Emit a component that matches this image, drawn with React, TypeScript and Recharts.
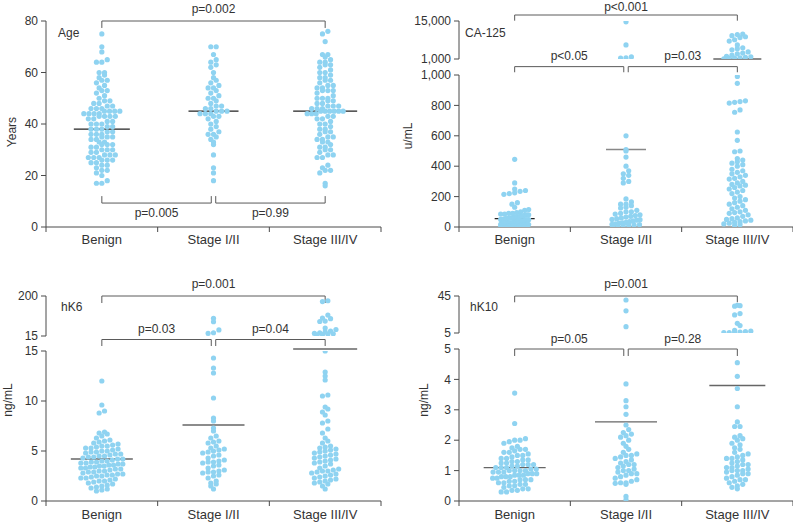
import React from "react";
import { ScatterChart, Scatter, XAxis, YAxis, ReferenceLine } from "recharts";

const categories = ["Benign", "Stage I/II", "Stage III/IV"];

// Age, years
const ageBenign = [75, 70, 68, 65, 64, 64, 60, 60, 59, 58, 57, 57, 56, 55, 54, 53, 53, 52, 51, 50, 49, 49, 48, 48, 47, 47, 46, 46, 46, 45, 45, 45, 45, 44, 44, 44, 44, 43, 43, 43, 43, 42, 42, 41, 41, 40, 40, 40, 39, 39, 38, 38, 38, 37, 37, 36, 36, 36, 35, 35, 35, 34, 34, 33, 33, 32, 32, 32, 31, 31, 30, 30, 30, 29, 29, 28, 28, 28, 27, 27, 27, 26, 26, 26, 25, 25, 24, 24, 23, 22, 22, 21, 20, 18, 17, 17];
const ageEarly = [70, 70, 67, 65, 64, 63, 62, 60, 58, 57, 56, 55, 54, 54, 53, 52, 51, 50, 50, 49, 48, 47, 47, 46, 46, 45, 45, 45, 44, 44, 44, 43, 43, 42, 41, 40, 39, 38, 37, 36, 36, 35, 34, 33, 32, 28, 23, 21, 18];
const ageLate = [76, 75, 72, 67, 67, 66, 65, 64, 64, 63, 63, 62, 61, 60, 60, 59, 58, 58, 57, 57, 56, 55, 55, 54, 54, 53, 53, 53, 52, 51, 50, 50, 50, 49, 49, 48, 48, 47, 47, 47, 46, 46, 46, 45, 45, 45, 45, 45, 45, 44, 44, 44, 43, 43, 42, 42, 41, 40, 40, 39, 38, 38, 37, 37, 36, 35, 35, 34, 34, 33, 33, 32, 31, 31, 30, 30, 29, 28, 28, 27, 27, 24, 23, 22, 22, 21, 17, 16];
const ageMean = [38, 45, 45];

// CA-125, u/mL
const caBenign = [445, 290, 250, 240, 235, 225, 220, 215, 160, 150, 130, 115, 110, 100, 95, 90, 90, 85, 85, 80, 80, 78, 75, 72, 70, 68, 65, 65, 62, 60, 60, 58, 55, 55, 52, 50, 50, 48, 45, 45, 45, 42, 40, 40, 38, 38, 35, 35, 33, 30, 30, 30, 28, 28, 25, 25, 25, 22, 22, 20, 20, 20, 18, 18, 16, 15, 15, 15, 14, 12, 12, 12, 11, 10, 10, 10, 9, 9, 8, 8, 7, 7, 6, 6, 5, 5, 5, 4, 4, 3, 3, 3, 2, 2, 1];
const caEarly = [14700, 6200, 1750, 1400, 1300, 600, 510, 500, 460, 400, 370, 350, 340, 320, 300, 290, 185, 165, 150, 150, 140, 130, 125, 110, 100, 100, 90, 85, 80, 75, 70, 65, 60, 55, 50, 48, 45, 40, 35, 30, 28, 25, 20, 18, 15, 12, 10, 8, 5, 3];
const caLate = [10200, 10000, 9600, 9200, 8900, 8100, 7600, 6200, 5100, 4800, 4400, 3600, 3200, 2900, 2400, 2000, 1800, 1600, 1400, 1300, 1200, 1100, 990, 945, 830, 825, 820, 815, 770, 755, 625, 570, 500, 495, 450, 440, 430, 420, 410, 400, 380, 370, 360, 350, 340, 330, 320, 315, 300, 290, 280, 275, 270, 260, 250, 240, 230, 220, 200, 190, 180, 170, 160, 150, 140, 130, 120, 110, 100, 95, 90, 80, 70, 60, 55, 50, 45, 40, 35, 30, 25, 20, 15, 10];
const caMean = [55, 510, 1000];

// hK6, ng/mL
const hk6Benign = [12.0, 9.6, 9.0, 8.8, 6.9, 6.8, 6.7, 6.5, 6.3, 6.1, 6.0, 5.9, 5.8, 5.7, 5.6, 5.5, 5.5, 5.4, 5.3, 5.3, 5.2, 5.1, 5.0, 5.0, 4.9, 4.9, 4.8, 4.7, 4.7, 4.6, 4.5, 4.5, 4.4, 4.4, 4.3, 4.2, 4.2, 4.1, 4.0, 4.0, 3.9, 3.9, 3.8, 3.8, 3.7, 3.7, 3.6, 3.6, 3.5, 3.5, 3.4, 3.4, 3.3, 3.3, 3.2, 3.2, 3.1, 3.0, 3.0, 2.9, 2.9, 2.8, 2.7, 2.7, 2.6, 2.6, 2.5, 2.5, 2.4, 2.3, 2.3, 2.2, 2.1, 2.0, 2.0, 1.9, 1.8, 1.7, 1.6, 1.5, 1.4, 1.3, 1.2, 1.1, 1.0];
const hk6Early = [97, 81, 43, 30, 27, 14.3, 13.3, 12.8, 10.3, 8.3, 8.0, 7.3, 7.0, 6.5, 6.3, 6.0, 5.9, 5.8, 5.5, 5.3, 5.2, 5.1, 5.0, 4.9, 4.8, 4.6, 4.5, 4.3, 4.1, 4.0, 3.9, 3.9, 3.8, 3.6, 3.5, 3.3, 3.1, 3.0, 2.9, 2.9, 2.8, 2.6, 2.5, 2.3, 2.0, 1.8, 1.7, 1.5, 1.2];
const hk6Late = [178, 174, 112, 98, 95, 84, 82, 52, 45, 38, 34, 30, 27, 25, 24, 22, 20, 15.0, 12.9, 12.5, 12.1, 10.6, 10.5, 9.4, 9.2, 8.9, 8.6, 8.0, 7.8, 7.2, 6.8, 6.3, 6.0, 5.8, 5.5, 5.4, 5.3, 5.2, 5.1, 5.0, 4.9, 4.8, 4.7, 4.6, 4.5, 4.4, 4.3, 4.2, 4.1, 4.0, 3.9, 3.8, 3.7, 3.5, 3.3, 3.2, 3.1, 3.0, 3.0, 2.9, 2.8, 2.7, 2.6, 2.5, 2.4, 2.3, 2.2, 2.1, 2.0, 1.9, 1.8, 1.7, 1.5, 1.2];
const hk6Mean = [4.2, 7.6, 15.2];

// hK10, ng/mL
const hk10Benign = [3.55, 2.55, 2.05, 2.0, 2.0, 1.95, 1.9, 1.8, 1.75, 1.7, 1.7, 1.65, 1.6, 1.6, 1.55, 1.5, 1.5, 1.45, 1.4, 1.4, 1.35, 1.35, 1.3, 1.3, 1.25, 1.25, 1.2, 1.2, 1.2, 1.15, 1.15, 1.1, 1.1, 1.1, 1.05, 1.05, 1.0, 1.0, 1.0, 1.0, 0.95, 0.95, 0.95, 0.9, 0.9, 0.9, 0.85, 0.85, 0.85, 0.8, 0.8, 0.8, 0.75, 0.75, 0.7, 0.7, 0.7, 0.65, 0.65, 0.6, 0.6, 0.55, 0.55, 0.5, 0.5, 0.45, 0.4, 0.4, 0.35, 0.35, 0.3, 0.3];
const hk10Early = [40.7, 29, 11.8, 3.85, 3.3, 3.1, 2.85, 2.5, 2.35, 2.25, 2.2, 2.15, 2.1, 2.0, 1.9, 1.8, 1.7, 1.6, 1.55, 1.5, 1.5, 1.45, 1.4, 1.35, 1.3, 1.25, 1.2, 1.2, 1.15, 1.1, 1.05, 1.0, 1.0, 0.95, 0.9, 0.9, 0.85, 0.8, 0.75, 0.7, 0.65, 0.6, 0.6, 0.58, 0.55, 0.15, 0.05];
const hk10Late = [35, 34.5, 34, 26, 24.5, 15.5, 13, 8, 7, 6.5, 6, 5.8, 5.5, 5.3, 4.55, 4.1, 3.7, 3.1, 2.6, 2.45, 2.45, 2.15, 2.1, 2.05, 2.0, 1.9, 1.85, 1.75, 1.7, 1.6, 1.55, 1.5, 1.45, 1.4, 1.4, 1.35, 1.3, 1.25, 1.2, 1.2, 1.15, 1.1, 1.1, 1.05, 1.0, 1.0, 1.0, 0.95, 0.9, 0.9, 0.85, 0.8, 0.75, 0.7, 0.7, 0.65, 0.6, 0.55, 0.5, 0.45, 0.4];
const hk10Mean = [1.1, 2.6, 3.8];

const pAge = ["p=0.002", "p=0.005", "p=0.99"];
const pCa = ["p<0.001", "p<0.05", "p=0.03"];
const pHk6 = ["p=0.001", "p=0.03", "p=0.04"];
const pHk10 = ["p=0.001", "p=0.05", "p=0.28"];

const AXIS = "#4a4a4a";
const TEXT = "#333";
const DOT = "#8fd3f1";
const BRACKET = "#5a5a5a";
const ROW = 5;
const STEP = 5.4;
const BAND_L = (400 - 19 - 46) / 3;
const BAND_R = (393 - 59) / 3;

function swarm(values: number[], cat: number, min: number, ppu: number, band: number, maxHalf: number) {
  const rows = new Map<number, number[]>();
  values.forEach((v) => {
    const r = Math.round(((v - min) * ppu) / ROW);
    if (!rows.has(r)) rows.set(r, []);
    rows.get(r)!.push(v);
  });
  const pts: { x: number; y: number }[] = [];
  rows.forEach((vs) => {
    vs.sort((a, b) => a - b);
    const n = vs.length;
    const gap = n > 1 ? Math.min(STEP, (2 * maxHalf) / (n - 1)) : 0;
    vs.forEach((v, i) => pts.push({ x: cat + ((i - (n - 1) / 2) * gap) / band, y: v }));
  });
  return pts;
}

const dot = (p: any) => <circle cx={p.cx} cy={p.cy} r={2.6} fill={DOT} />;

const fmt = (v: number) => v.toLocaleString("en-US");

function catTick(dy: number) {
  return (p: any) => {
    const v = p.payload.value;
    if (Math.abs(v - Math.round(v)) > 0.01) {
      return <line x1={p.x} x2={p.x} y1={p.y} y2={p.y + 5} stroke={AXIS} />;
    }
    return (
      <text x={p.x} y={p.y + dy} textAnchor="middle" fontSize={13} fill={TEXT}>
        {categories[Math.round(v)]}
      </text>
    );
  };
}

function bracket(id: string, x1: number, x2: number, y: number, yEnd: number, text: string, pos: "top" | "bottom", offset: number) {
  return [
    <ReferenceLine key={id + "h"} segment={[{ x: x1, y }, { x: x2, y }]} stroke={BRACKET} ifOverflow="visible"
      label={{ value: text, position: pos, offset, fill: TEXT, fontSize: 12 }} />,
    <ReferenceLine key={id + "a"} segment={[{ x: x1, y }, { x: x1, y: yEnd }]} stroke={BRACKET} ifOverflow="visible" />,
    <ReferenceLine key={id + "b"} segment={[{ x: x2, y }, { x: x2, y: yEnd }]} stroke={BRACKET} ifOverflow="visible" />,
  ];
}

function meanLine(id: string, cat: number, v: number, halfPx: number, band: number, color: string) {
  const h = halfPx / band;
  return (
    <ReferenceLine key={id} segment={[{ x: cat - h, y: v }, { x: cat + h, y: v }]} stroke={color} strokeWidth={1.3} ifOverflow="visible" />
  );
}

type Sec = {
  left: number; top: number; width: number; height: number;
  mTop: number; mBottom: number; mRight: number; yWidth: number;
  domain: [number, number]; ticks: number[]; xHeight?: number; xDy?: number;
  groups: number[][];
  maxHalf?: number;
  extras?: React.ReactNode[];
};

function Section(s: Sec) {
  const xh = s.xHeight ?? 0;
  const plotW = s.width - s.mRight - s.yWidth;
  const plotH = s.height - s.mTop - s.mBottom - xh;
  const band = plotW / 3;
  const ppu = plotH / (s.domain[1] - s.domain[0]);
  return (
    <div style={{ position: "absolute", left: s.left, top: s.top }}>
      <ScatterChart width={s.width} height={s.height} margin={{ top: s.mTop, right: s.mRight, bottom: s.mBottom, left: 0 }}>
        <XAxis type="number" dataKey="x" domain={[-0.5, 2.5]} ticks={[-0.5, 0, 0.5, 1, 1.5, 2, 2.5]} interval={0}
          hide={!xh} height={xh || 1} tickLine={false} tickSize={0} tickMargin={0} axisLine={{ stroke: AXIS }}
          tick={catTick(s.xDy ?? 17)} allowDataOverflow />
        <YAxis type="number" dataKey="y" domain={s.domain} ticks={s.ticks} interval={0} width={s.yWidth} tickFormatter={fmt}
          tickSize={5} tickMargin={3} axisLine={{ stroke: AXIS }} tickLine={{ stroke: AXIS }}
          tick={{ fill: TEXT, fontSize: 12 }} allowDataOverflow />
        {s.groups.map((g, i) => (
          <Scatter key={i} data={swarm(g, i, s.domain[0], ppu, band, s.maxHalf ?? 20)} fill={DOT} shape={dot} isAnimationActive={false} />
        ))}
        {s.extras}
      </ScatterChart>
    </div>
  );
}

const low = (vals: number[], brk: number) => vals.filter((v) => v <= brk);
const high = (vals: number[], brk: number) => vals.filter((v) => v > brk);

export default function App() {
  const caBrk = 1000, hk6Brk = 15, hk10Brk = 5;
  return (
    <div style={{ position: "absolute", left: 0, top: 0, width: 793, height: 522, background: "#fff", fontFamily: "'Liberation Sans', Arial, sans-serif" }}>
      {/* Age */}
      <Section left={0} top={0} width={400} height={260} mTop={21} mBottom={0} mRight={19} yWidth={46}
        domain={[0, 80]} ticks={[0, 20, 40, 60, 80]} xHeight={33} xDy={17}
        groups={[ageBenign, ageEarly, ageLate]} maxHalf={18}
        extras={[
          ...ageMean.map((m, i) => meanLine("am" + i, i, m, [28, 25, 32][i], BAND_L, "#222")),
          ...bracket("a1", 0, 2, 80, 77.3, pAge[0], "top", 8),
          ...bracket("a2", 0, 0.98, 9.3, 12, pAge[1], "bottom", 5),
          ...bracket("a3", 1.02, 2, 9.3, 12, pAge[2], "bottom", 5),
        ]} />

      {/* CA-125 upper */}
      <Section left={400} top={0} width={393} height={260} mTop={21} mBottom={201} mRight={0} yWidth={59}
        domain={[1000, 15000]} ticks={[1000, 15000]}
        groups={[high(caBenign, caBrk), high(caEarly, caBrk), high(caLate, caBrk)]} maxHalf={16}
        extras={[
          meanLine("cm2", 2, caMean[2], 24, BAND_R, "#666"),
          ...bracket("c1", 0, 2, 17210, 15110, pCa[0], "top", 4.5),
        ]} />
      {/* CA-125 lower */}
      <Section left={400} top={0} width={393} height={260} mTop={75} mBottom={0} mRight={0} yWidth={59}
        domain={[0, 1000]} ticks={[0, 200, 400, 600, 800, 1000]} xHeight={33} xDy={17}
        groups={[low(caBenign, caBrk), low(caEarly, caBrk), low(caLate, caBrk)]} maxHalf={14}
        extras={[
          meanLine("cm0", 0, caMean[0], 20, BAND_R, "#222"),
          meanLine("cm1", 1, caMean[1], 20, BAND_R, "#888"),
          ...bracket("c2", 0, 0.98, 1055, 1018, pCa[1], "top", 6.5),
          ...bracket("c3", 1.02, 2, 1055, 1018, pCa[2], "top", 6.5),
        ]} />

      {/* hK6 upper */}
      <Section left={0} top={260} width={400} height={262} mTop={36} mBottom={186} mRight={19} yWidth={46}
        domain={[15, 200]} ticks={[15, 200]}
        groups={[high(hk6Benign, hk6Brk), high(hk6Early, hk6Brk), high(hk6Late, hk6Brk)]}
        extras={[...bracket("k1", 0, 2, 200, 167.6, pHk6[0], "top", 8)]} />
      {/* hK6 lower */}
      <Section left={0} top={260} width={400} height={262} mTop={91} mBottom={0} mRight={19} yWidth={46}
        domain={[0, 15]} ticks={[0, 5, 10, 15]} xHeight={21} xDy={18}
        groups={[low(hk6Benign, hk6Brk), low(hk6Early, hk6Brk), low(hk6Late, hk6Brk)]} maxHalf={21}
        extras={[
          ...hk6Mean.map((m, i) => meanLine("km" + i, i, m, [31, 31, 32][i], BAND_L, "#666")),
          ...bracket("k2", 0, 0.98, 16.15, 15.5, pHk6[1], "top", 6.5),
          ...bracket("k3", 1.02, 2, 16.15, 15.5, pHk6[2], "top", 6.5),
        ]} />

      {/* hK10 upper */}
      <Section left={400} top={260} width={393} height={262} mTop={36} mBottom={189} mRight={0} yWidth={59}
        domain={[5, 45]} ticks={[5, 45]}
        groups={[high(hk10Benign, hk10Brk), high(hk10Early, hk10Brk), high(hk10Late, hk10Brk)]}
        extras={[...bracket("t1", 0, 2, 45, 38.2, pHk10[0], "top", 8)]} />
      {/* hK10 lower */}
      <Section left={400} top={260} width={393} height={262} mTop={89} mBottom={0} mRight={0} yWidth={59}
        domain={[0, 5]} ticks={[0, 1, 2, 3, 4, 5]} xHeight={21} xDy={18}
        groups={[low(hk10Benign, hk10Brk), low(hk10Early, hk10Brk), low(hk10Late, hk10Brk)]} maxHalf={22}
        extras={[
          ...hk10Mean.map((m, i) => meanLine("tm" + i, i, m, [31, 31, 28][i], BAND_R, "#666")),
          ...bracket("t2", 0, 0.98, 5.0, 4.77, pHk10[1], "top", 6.5),
          ...bracket("t3", 1.02, 2, 5.0, 4.77, pHk10[2], "top", 6.5),
        ]} />

      <svg width={793} height={522} style={{ position: "absolute", left: 0, top: 0, pointerEvents: "none" }}>
        <g fontSize={12} fill={TEXT}>
          <text x={58} y={37}>Age</text>
          <text x={465} y={37}>CA-125</text>
          <text x={61} y={311}>hK6</text>
          <text x={470} y={311}>hK10</text>
          <text transform="translate(12,132) rotate(-90)" textAnchor="middle" dominantBaseline="central">Years</text>
          <text transform="translate(408,136) rotate(-90)" textAnchor="middle" dominantBaseline="central">u/mL</text>
          <text transform="translate(8,400) rotate(-90)" textAnchor="middle" dominantBaseline="central">ng/mL</text>
          <text transform="translate(424,400) rotate(-90)" textAnchor="middle" dominantBaseline="central">ng/mL</text>
        </g>
      </svg>
    </div>
  );
}
